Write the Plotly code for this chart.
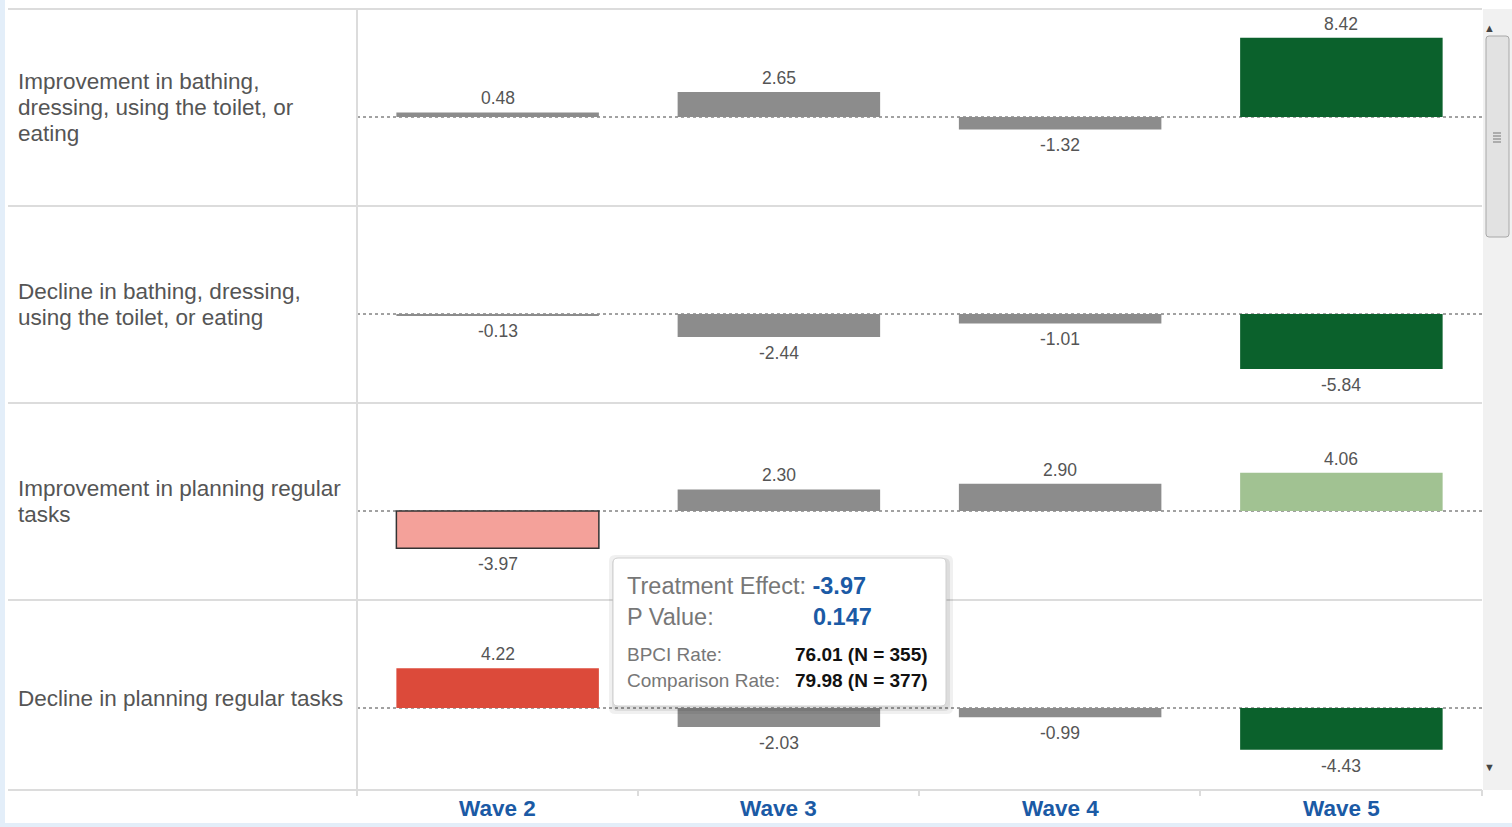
import plotly.graph_objects as go

# ---------------- data ----------------
waves = ["Wave 2", "Wave 3", "Wave 4", "Wave 5"]
measures = [
    ["Improvement in bathing,", "dressing, using the toilet, or", "eating"],
    ["Decline in bathing, dressing,", "using the toilet, or eating"],
    ["Improvement in planning regular", "tasks"],
    ["Decline in planning regular tasks"],
]
effect_bathing_improve = [0.48, 2.65, -1.32, 8.42]
effect_bathing_decline = [-0.13, -2.44, -1.01, -5.84]
effect_planning_improve = [-3.97, 2.30, 2.90, 4.06]
effect_planning_decline = [4.22, -2.03, -0.99, -4.43]
effects = [effect_bathing_improve, effect_bathing_decline,
           effect_planning_improve, effect_planning_decline]

# significance class of each effect
sig_bathing_improve = ["ns", "ns", "ns", "fav"]
sig_bathing_decline = ["ns", "ns", "ns", "fav"]
sig_planning_improve = ["unfav_m", "ns", "ns", "fav_m"]
sig_planning_decline = ["unfav", "ns", "ns", "fav"]
sigs = [sig_bathing_improve, sig_bathing_decline,
        sig_planning_improve, sig_planning_decline]

# tooltip (selected mark: row 3, Wave 2)
tip_effect = -3.97
tip_p = 0.147
tip_bpci_rate, tip_bpci_n = 76.01, 355
tip_comp_rate, tip_comp_n = 79.98, 377

# ---------------- styles ----------------
sig_colors = {"ns": "#8c8c8c", "fav": "#0b612c", "fav_m": "#a1c292",
              "unfav": "#dc4a3a", "unfav_m": "#f4a19a"}
W, H = 1512, 827
FONT = "Liberation Sans, Arial, sans-serif"
GRID = "#dcdcdc"
TXT = "#555555"
BLUE = "#1b5aa5"

def px(x):
    return x / W

def py(y):
    return 1 - y / H

x_left, x_right = 357, 1482
row_tops = [9, 206, 403, 600]
row_bots = [206, 403, 600, 790]
zero_off = 108
scale = 9.4  # px per unit

fig = go.Figure()
shapes = []
annotations = []

for i in range(4):
    n = i + 1
    xa = "x" if n == 1 else f"x{n}"
    ya = "y" if n == 1 else f"y{n}"
    top, bot = row_tops[i], row_bots[i]
    zero = top + zero_off
    yr = [-(bot - zero) / scale, (zero - top) / scale]
    line_w = [1.5 if (i == 2 and j == 0) else 0 for j in range(4)]
    fig.add_trace(go.Bar(
        x=waves, y=effects[i], xaxis=xa, yaxis=ya,
        marker=dict(color=[sig_colors[s] for s in sigs[i]],
                    line=dict(color="#333333", width=line_w)),
        width=0.72,
        hoverinfo="skip", showlegend=False,
    ))
    # value labels: above positive bars, below negative bars
    for wv, v in zip(waves, effects[i]):
        annotations.append(dict(text=f"{v:.2f}", xref=xa, yref=ya, x=wv, y=v,
                                xanchor="center", yanchor="bottom" if v >= 0 else "top",
                                yshift=2 if v >= 0 else -4, showarrow=False,
                                font=dict(family=FONT, size=17.5, color=TXT)))
    fig.layout[f"xaxis{'' if n == 1 else n}"] = dict(
        domain=[px(x_left), px(x_right)], range=[-0.5, 3.5], type="category",
        visible=False, anchor=ya, fixedrange=True)
    fig.layout[f"yaxis{'' if n == 1 else n}"] = dict(
        domain=[py(bot), py(top)], range=yr, visible=False, anchor=xa,
        fixedrange=True)
    # zero line
    shapes.append(dict(type="line", xref="paper", yref=ya, x0=px(x_left), x1=px(x_right),
                       y0=0, y1=0, line=dict(color="#444444", width=1, dash="dot"),
                       layer="below"))
    # row label, one annotation per line
    lines = measures[i]
    c = top + 98.5
    for k, ln in enumerate(lines):
        yy = c + (k - (len(lines) - 1) / 2) * 26
        annotations.append(dict(text=ln, xref="paper", yref="paper",
                                x=px(16), y=py(yy), xanchor="left", yanchor="middle",
                                align="left", showarrow=False,
                                font=dict(family=FONT, size=22.5, color=TXT)))

# row separators
for y in [9, 206, 403, 600, 790]:
    shapes.append(dict(type="line", xref="paper", yref="paper", x0=px(8), x1=px(x_right),
                       y0=py(y), y1=py(y), line=dict(color=GRID, width=2), layer="below"))
# vertical separator
shapes.append(dict(type="line", xref="paper", yref="paper", x0=px(357), x1=px(357),
                   y0=py(9), y1=py(796), line=dict(color=GRID, width=2), layer="below"))
# bottom ticks
for xt in [357, 638, 919, 1200, 1482]:
    shapes.append(dict(type="line", xref="paper", yref="paper", x0=px(xt), x1=px(xt),
                       y0=py(790), y1=py(796), line=dict(color=GRID, width=2)))
# wave labels
for j, w in enumerate(waves):
    annotations.append(dict(text=f"<b>{w}</b>", xref="paper", yref="paper",
                            x=px(357 + 281.25 * (j + 0.5)), y=py(808),
                            xanchor="center", yanchor="middle", showarrow=False,
                            font=dict(family=FONT, size=22.5, color=BLUE)))

# light-blue frame strips
shapes.append(dict(type="rect", xref="paper", yref="paper", x0=0, x1=px(5), y0=0, y1=1,
                   fillcolor="#e3eef9", line=dict(width=0)))
shapes.append(dict(type="rect", xref="paper", yref="paper", x0=0, x1=1, y0=0, y1=py(823),
                   fillcolor="#e3eef9", line=dict(width=0)))

# scrollbar
shapes.append(dict(type="rect", xref="paper", yref="paper", x0=px(1483), x1=px(1512),
                   y0=py(790), y1=py(9), fillcolor="#f1f1f1", line=dict(width=0)))

def rrect(x0, y0, x1, y1, r):
    X0, X1 = px(x0), px(x1)
    Y0, Y1 = py(y0), py(y1)
    rx, ry = r / W, r / H
    return (f"M{X0+rx},{Y0} L{X1-rx},{Y0} Q{X1},{Y0} {X1},{Y0-ry} "
            f"L{X1},{Y1+ry} Q{X1},{Y1} {X1-rx},{Y1} L{X0+rx},{Y1} "
            f"Q{X0},{Y1} {X0},{Y1+ry} L{X0},{Y0-ry} Q{X0},{Y0} {X0+rx},{Y0} Z")

shapes.append(dict(type="path", xref="paper", yref="paper", path=rrect(1486, 36, 1509, 237, 3),
                   fillcolor="#e2e2e2", line=dict(color="#a8a8a8", width=1)))
for yy in [133, 136, 139, 142]:
    shapes.append(dict(type="line", xref="paper", yref="paper", x0=px(1493), x1=px(1501),
                       y0=py(yy), y1=py(yy), line=dict(color="#777777", width=1)))
annotations.append(dict(text="▲", xref="paper", yref="paper", x=px(1497), y=py(20),
                        showarrow=False, font=dict(size=11, color="#444444")))
annotations.append(dict(text="▼", xref="paper", yref="paper", x=px(1497), y=py(775),
                        showarrow=False, font=dict(size=11, color="#444444")))

# tooltip
for c_, w_ in [("rgba(0,0,0,0.06)", 6), ("rgba(0,0,0,0.08)", 3)]:
    shapes.append(dict(type="path", xref="paper", yref="paper",
                       path=rrect(613 - w_ + 2, 558 - w_ + 3, 946 + w_ + 1, 706 + w_ + 2, 6),
                       fillcolor=c_, line=dict(width=0)))
shapes.append(dict(type="path", xref="paper", yref="paper", path=rrect(613, 558, 946, 706, 5),
                   fillcolor="#ffffff", line=dict(color="#d0d0d0", width=1)))
annotations.append(dict(
    text=f"Treatment Effect: <b><span style='color:{BLUE}'>{tip_effect:.2f}</span></b>",
    xref="paper", yref="paper", x=px(625), y=py(586), xanchor="left", yanchor="middle",
    showarrow=False, font=dict(family=FONT, size=23.5, color="#777777")))
annotations.append(dict(text="P Value:", xref="paper", yref="paper", x=px(625), y=py(617),
                        xanchor="left", yanchor="middle", showarrow=False,
                        font=dict(family=FONT, size=23.5, color="#777777")))
annotations.append(dict(text=f"<b>{tip_p:.3f}</b>", xref="paper", yref="paper", x=px(811),
                        y=py(617), xanchor="left", yanchor="middle", showarrow=False,
                        font=dict(family=FONT, size=23.5, color=BLUE)))
annotations.append(dict(text="BPCI Rate:", xref="paper", yref="paper", x=px(625), y=py(654),
                        xanchor="left", yanchor="middle", showarrow=False,
                        font=dict(family=FONT, size=19, color="#777777")))
annotations.append(dict(text="Comparison Rate:", xref="paper", yref="paper", x=px(625),
                        y=py(680), xanchor="left", yanchor="middle", showarrow=False,
                        font=dict(family=FONT, size=19, color="#777777")))
annotations.append(dict(text=f"<b>{tip_bpci_rate:.2f} (N = {tip_bpci_n})</b>", xref="paper",
                        yref="paper", x=px(930), y=py(654), xanchor="right", yanchor="middle",
                        showarrow=False, font=dict(family=FONT, size=19, color="#111111")))
annotations.append(dict(text=f"<b>{tip_comp_rate:.2f} (N = {tip_comp_n})</b>", xref="paper",
                        yref="paper", x=px(930), y=py(680), xanchor="right", yanchor="middle",
                        showarrow=False, font=dict(family=FONT, size=19, color="#111111")))

fig.update_layout(width=W, height=H, margin=dict(l=0, r=0, t=0, b=0),
                  paper_bgcolor="white", plot_bgcolor="rgba(0,0,0,0)",
                  shapes=shapes, annotations=annotations, bargap=0.28,
                  font=dict(family=FONT))
fig.write_html("out.html", config={"displayModeBar": False},
               post_script="document.body.style.margin='0';document.body.style.overflow='hidden';")
